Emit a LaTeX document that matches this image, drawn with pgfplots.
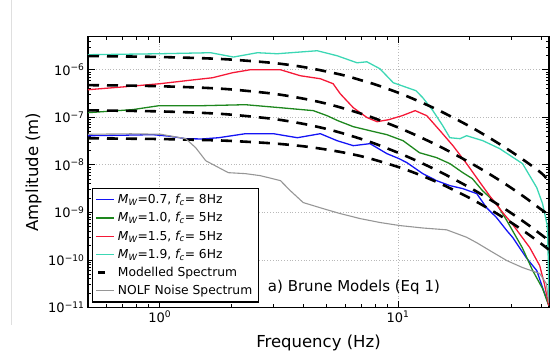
\documentclass[border=0pt]{standalone}
\usepackage{pgfplots}
\pgfplotsset{compat=1.18}
\usepackage{fontspec}
\setmainfont{DejaVu Sans}
\definecolor{cblue}{RGB}{20,20,245}
\definecolor{cgreen}{RGB}{30,135,30}
\definecolor{cred}{RGB}{245,25,55}
\definecolor{ccyan}{RGB}{60,215,180}
\definecolor{cgrey}{RGB}{150,150,150}
\pgfplotsset{
 lineleg/.style={legend image code/.code={\draw[##1] (0pt,0pt) -- (18pt,0pt);}},
 dashleg/.style={legend image code/.code={\draw[##1,solid] (2pt,0pt) -- (9pt,0pt);}},
}
\begin{document}
\begin{tikzpicture}
\begin{axis}[
 width=461pt, height=271pt, scale only axis,
 xmode=log, ymode=log,
 xmin=0.5, xmax=43, ymin=1e-11, ymax=5e-6,
 xtick={1,10}, xticklabels={10\textsuperscript{0},10\textsuperscript{1}},
 ytick={1e-11,1e-10,1e-9,1e-8,1e-7,1e-6},
 yticklabels={10\textsuperscript{−11},10\textsuperscript{−10},10\textsuperscript{−9},10\textsuperscript{−8},10\textsuperscript{−7},10\textsuperscript{−6}},
 minor xtick={0.5,0.6,0.7,0.8,0.9,2,3,4,5,6,7,8,9,20,30,40},
 minor ytick={2e-11,3e-11,4e-11,5e-11,6e-11,7e-11,8e-11,9e-11,2e-10,3e-10,4e-10,5e-10,6e-10,7e-10,8e-10,9e-10,2e-9,3e-9,4e-9,5e-9,6e-9,7e-9,8e-9,9e-9,2e-8,3e-8,4e-8,5e-8,6e-8,7e-8,8e-8,9e-8,2e-7,3e-7,4e-7,5e-7,6e-7,7e-7,8e-7,9e-7,2e-6,3e-6,4e-6},
 tick align=inside,
 major tick length=7pt, minor tick length=3.5pt,
 every tick/.style={black, line width=0.8pt},
 axis line style={black, line width=1.3pt},
 grid=major,
 major grid style={line width=0.8pt, gray!55, dotted},
 tick label style={font=\fontsize{13}{15}\selectfont},
 label style={font=\fontsize{16.5}{19}\selectfont},
 xlabel={Frequency (Hz)}, ylabel={Amplitude (m)},
 xlabel style={at={(rel axis cs:0.5,-0.129)}, anchor=center},
 ylabel style={at={(rel axis cs:-0.118,0.5)}, anchor=center},
 legend style={at={(rel axis cs:0.0087,0.018)}, anchor=south west, draw=black, line width=1.2pt, fill=white,
   font=\fontsize{12.3}{14}\selectfont, inner xsep=3pt, inner ysep=2pt, nodes={inner xsep=3pt, inner ysep=3.7pt}},
 legend cell align=left,
 lineleg,
]
\addplot[cblue, line width=1.3pt] coordinates {(0.5,4.10e-8) (0.7,4.2e-8) (0.935,4.31e-8) (1.1,4.0e-8) (1.285,3.55e-8) (1.5,3.5e-8) (1.765,3.72e-8) (2.29,4.52e-8) (3.0,4.52e-8) (3.78,3.72e-8) (4.72,4.52e-8) (5.55,3.22e-8) (6.49,2.53e-8) (7.63,2.79e-8) (8.98,1.72e-8) (10.1,1.35e-8) (10.9,1.11e-8) (12.7,6.53e-9) (14.5,4.66e-9) (16.5,3.66e-9) (18.7,3.16e-9) (21.4,2.48e-9) (23.5,1.26e-9) (25.9,7.78e-10) (28.6,4.15e-10) (30.3,2.96e-10) (34.5,1.12e-10) (38.2,5.98e-11) (40.4,2.63e-11) (42.9,1.12e-11)};
\addlegendentry{\textit{M\textsubscript{W}}=0.7, \textit{f\textsubscript{c}}= 8Hz}
\addplot[cgreen, line width=1.3pt] coordinates {(0.5,1.25e-7) (0.77,1.45e-7) (0.99,1.75e-7) (1.48,1.75e-7) (2.29,1.84e-7) (3.21,1.59e-7) (4.41,1.38e-7) (5.04,1.08e-7) (5.59,8.49e-8) (6.49,6.35e-8) (7.63,5.22e-8) (8.98,4.31e-8) (10.5,3.22e-8) (12.3,1.80e-8) (14.5,1.42e-8) (16.5,1.06e-8) (18.7,6.85e-9) (20.5,5.13e-9) (22.6,2.87e-9) (25.9,1.53e-9) (28.6,6.73e-10) (31.4,2.96e-10) (33.2,1.82e-10) (36.7,6.03e-11) (40.4,2.51e-11) (42.9,1.10e-11)};
\addlegendentry{\textit{M\textsubscript{W}}=1.0, \textit{f\textsubscript{c}}= 5Hz}
\addplot[cred, line width=1.3pt] coordinates {(0.5,3.80e-7) (0.72,4.40e-7) (1,5.08e-7) (1.285,5.87e-7) (1.666,6.79e-7) (2.02,8.65e-7) (2.4,1.0e-6) (3.21,1.0e-6) (3.89,7.48e-7) (4.72,6.47e-7) (5.34,5.08e-7) (5.72,3.13e-7) (6.49,1.59e-7) (7.42,9.83e-8) (8.17,8.09e-8) (9.14,8.91e-8) (10.4,1.08e-7) (11.8,1.38e-7) (13.2,1.08e-7) (15.0,5.22e-8) (17.0,2.53e-8) (19.4,1.06e-8) (22.1,4.23e-9) (24.2,2.25e-9) (27.5,9.91e-10) (30.3,5.55e-10) (33.0,3.10e-10) (35.7,1.82e-10) (39.3,7.62e-11) (41.1,3.19e-11) (42.9,1.10e-11)};
\addlegendentry{\textit{M\textsubscript{W}}=1.5, \textit{f\textsubscript{c}}= 5Hz}
\addplot[ccyan, line width=1.3pt] coordinates {(0.5,2.07e-6) (1,2.17e-6) (1.635,2.28e-6) (2.04,1.85e-6) (2.57,2.28e-6) (3.11,2.17e-6) (4.58,2.51e-6) (5.55,1.97e-6) (6.73,1.40e-6) (7.4,1.47e-6) (8.39,1.05e-6) (9.55,5.33e-7) (11.9,3.62e-7) (12.7,2.58e-7) (14.0,1.38e-7) (15.4,6.67e-8) (16.5,3.72e-8) (18.2,3.55e-8) (19.4,4.10e-8) (22.7,3.22e-8) (26.7,2.19e-8) (33.3,1.06e-8) (38.2,3.32e-9) (40.4,1.53e-9) (42.3,5.25e-10) (42.7,1.0e-10) (42.9,1.41e-11)};
\addlegendentry{\textit{M\textsubscript{W}}=1.9, \textit{f\textsubscript{c}}= 6Hz}
\addplot[black, line width=2.6pt, dash pattern=on 11pt off 8pt, smooth, dashleg] coordinates {(0.5,3.61e-8) (0.7,3.56e-8) (1,3.49e-8) (1.5,3.34e-8) (2,3.18e-8) (3,2.82e-8) (4,2.46e-8) (5,2.10e-8) (6,1.79e-8) (7,1.52e-8) (8,1.27e-8) (10,9.04e-9) (12,6.49e-9) (15,4.06e-9) (20,2.00e-9) (25,1.06e-9) (30,6.00e-10) (35,3.55e-10) (40,2.17e-10) (42.9,1.65e-10)};
\addlegendentry{Modelled Spectrum}
\addplot[black, line width=2.6pt, dash pattern=on 11pt off 8pt, smooth, forget plot] coordinates {(0.5,1.40e-7) (0.7,1.37e-7) (1,1.33e-7) (1.5,1.24e-7) (2,1.135e-7) (3,9.23e-8) (4,7.29e-8) (5,5.71e-8) (6,4.45e-8) (7,3.50e-8) (8,2.79e-8) (10,1.80e-8) (12,1.21e-8) (15,7.13e-9) (20,3.32e-9) (25,1.71e-9) (30,9.51e-10) (35,5.56e-10) (40,3.37e-10) (42.9,2.56e-10)};
\addplot[black, line width=2.6pt, dash pattern=on 11pt off 8pt, smooth, forget plot] coordinates {(0.5,4.74e-7) (0.7,4.66e-7) (1,4.50e-7) (1.5,4.19e-7) (2,3.85e-7) (3,3.13e-7) (4,2.47e-7) (5,1.94e-7) (6,1.51e-7) (7,1.19e-7) (8,9.46e-8) (10,6.11e-8) (12,4.11e-8) (15,2.42e-8) (20,1.12e-8) (25,5.79e-9) (30,3.22e-9) (35,1.88e-9) (40,1.14e-9) (42.9,9.0e-10)};
\addplot[black, line width=2.6pt, dash pattern=on 11pt off 8pt, smooth, forget plot] coordinates {(0.5,1.936e-6) (0.7,1.905e-6) (1,1.854e-6) (1.5,1.750e-6) (2,1.633e-6) (3,1.387e-6) (4,1.143e-6) (5,9.20e-7) (6,7.52e-7) (7,6.01e-7) (8,4.92e-7) (10,3.30e-7) (12,2.26e-7) (15,1.36e-7) (20,6.43e-8) (25,3.34e-8) (30,1.87e-8) (35,1.10e-8) (40,6.67e-9) (42.9,4.6e-9)};
\addplot[cgrey, line width=1.1pt] coordinates {(0.5,4.4e-8) (0.756,4.5e-8) (1.01,4.4e-8) (1.285,3.55e-8) (1.415,2.30e-8) (1.56,1.22e-8) (1.94,6.85e-9) (2.29,6.53e-9) (2.64,5.93e-9) (3.21,4.66e-9) (3.53,2.87e-9) (4.0,1.61e-9) (4.85,1.20e-9) (5.72,9.44e-10) (6.93,7.41e-10) (8.43,6.11e-10) (10.2,5.28e-10) (12.7,4.70e-10) (16.0,4.3e-10) (19.4,3.0e-10) (21.4,2.3e-10) (24.3,1.57e-10) (28.6,9.70e-11) (33.3,6.92e-11) (39.3,5.18e-11) (41.9,3.19e-11) (42.9,1.26e-11)};
\addlegendentry{NOLF Noise Spectrum}
\node[anchor=west, inner sep=0pt, font=\fontsize{15}{18}\selectfont] at (rel axis cs:0.390,0.074) {a) Brune Models (Eq 1)};
\coordinate (bbsw) at (rel axis cs:-0.19089,-0.16974);
\coordinate (bbne) at (rel axis cs:1.01302,1.13284);
\coordinate (vlt) at (rel axis cs:-0.1649,1.13284);
\coordinate (vlb) at (rel axis cs:-0.1649,-0.066);
\end{axis}
\draw[gray!25, line width=1pt] (vlt) -- (vlb);
\path (bbsw) rectangle (bbne);
\end{tikzpicture}
\end{document}
